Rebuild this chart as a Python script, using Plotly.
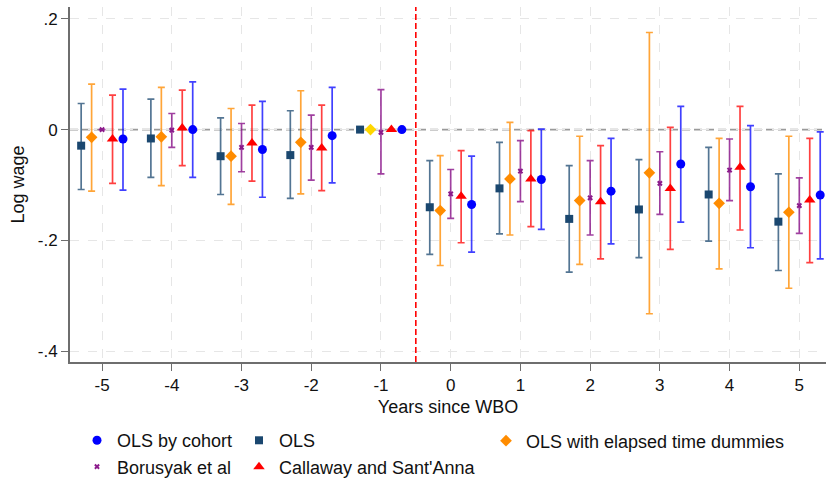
import plotly.graph_objects as go

years = [-5, -4, -3, -2, -1, 0, 1, 2, 3, 4, 5]

ols_est = [-0.029, -0.016, -0.048, -0.046, 0.0, -0.140, -0.106, -0.161, -0.144, -0.117, -0.166]
ols_lo = [-0.108, -0.086, -0.117, -0.124, 0.0, -0.225, -0.188, -0.257, -0.231, -0.201, -0.254]
ols_hi = [0.047, 0.055, 0.021, 0.034, 0.0, -0.056, -0.023, -0.065, -0.054, -0.032, -0.080]

etd_est = [-0.014, -0.013, -0.048, -0.023, 0.0, -0.146, -0.089, -0.128, -0.078, -0.133, -0.149]
etd_lo = [-0.111, -0.101, -0.135, -0.116, 0.0, -0.245, -0.190, -0.243, -0.332, -0.251, -0.286]
etd_hi = [0.082, 0.076, 0.038, 0.070, 0.0, -0.047, 0.013, -0.012, 0.175, -0.016, -0.012]

bor_est = [0.0, -0.001, -0.032, -0.032, -0.005, -0.116, -0.075, -0.123, -0.097, -0.073, -0.137]
bor_lo = [0.0, -0.032, -0.076, -0.091, -0.080, -0.160, -0.130, -0.190, -0.153, -0.128, -0.187]
bor_hi = [0.0, 0.029, 0.011, 0.026, 0.072, -0.072, -0.020, -0.056, -0.040, -0.017, -0.087]

cs_est = [-0.017, 0.003, -0.024, -0.033, 0.0, -0.120, -0.089, -0.130, -0.106, -0.068, -0.127]
cs_lo = [-0.097, -0.065, -0.093, -0.110, 0.0, -0.204, -0.175, -0.233, -0.216, -0.181, -0.240]
cs_hi = [0.062, 0.071, 0.044, 0.044, 0.0, -0.038, -0.002, -0.029, 0.004, 0.042, -0.016]

coh_est = [-0.017, 0.0, -0.036, -0.011, 0.0, -0.135, -0.090, -0.111, -0.062, -0.103, -0.118]
coh_lo = [-0.109, -0.086, -0.122, -0.096, 0.0, -0.221, -0.180, -0.206, -0.167, -0.213, -0.233]
coh_hi = [0.073, 0.086, 0.051, 0.076, 0.0, -0.048, 0.001, -0.016, 0.042, 0.007, -0.004]

y_tickvals = [0.2, 0.0, -0.2, -0.4]
y_ticktext = [".2", "0", "-.2", "-.4"]
x_tickvals = years
x_ticktext = [str(v) for v in years]

FONT = "Liberation Sans, Arial, Helvetica, sans-serif"


def errs(est, lo, hi):
    up = [(h - e) if (h != e or l != e) else None for e, l, h in zip(est, lo, hi)]
    dn = [(e - l) if (h != e or l != e) else None for e, l, h in zip(est, lo, hi)]
    return up, dn


series = [
    # name, est, lo, hi, offset, symbol, color, size, errcolor, legend, rank
    ("OLS", ols_est, ols_lo, ols_hi, -0.30, "square", "#1a476f", 8, "rgba(26,71,111,0.75)", "legend2", 1),
    ("OLS with elapsed time dummies", etd_est, etd_lo, etd_hi, -0.15, "diamond", "#ff8c00", 9, "rgba(255,140,0,0.78)", "legend3", 1),
    ("Borusyak et al", bor_est, bor_lo, bor_hi, 0.0, "x", "#8b1a8b", 5, "rgba(128,0,128,0.75)", "legend", 2),
    ("Callaway and Sant'Anna", cs_est, cs_lo, cs_hi, 0.15, "triangle-up", "#ff0000", 10, "rgba(255,0,0,0.75)", "legend2", 2),
    ("OLS by cohort", coh_est, coh_lo, coh_hi, 0.30, "circle", "#0000ff", 9, "rgba(0,0,255,0.75)", "legend", 1),
]

fig = go.Figure()
for name, est, lo, hi, off, sym, col, size, ecol, leg, rank in series:
    up, dn = errs(est, lo, hi)
    if sym == "diamond":
        mcol = ["#ffd700" if yr == -1 else col for yr in years]
    else:
        mcol = col
    fig.add_trace(go.Scatter(
        x=[yr + off for yr in years], y=est, mode="markers", name=name,
        marker=dict(symbol=sym, color=mcol, size=size,
                    line=dict(width=0)),
        error_y=dict(type="data", symmetric=False, array=up, arrayminus=dn,
                     color=ecol, thickness=1.7, width=3.5),
        legend=leg, legendrank=rank,
    ))

fig.add_shape(type="line", xref="paper", x0=0, x1=1, yref="y", y0=0, y1=0,
              line=dict(color="#9a9a9a", width=1.6, dash="8px,4px"), layer="below")
fig.add_shape(type="line", xref="x", x0=-0.5, x1=-0.5, yref="paper", y0=0, y1=1,
              line=dict(color="#ff0000", width=1.6, dash="6px,3px"), layer="above")

LEG_Y2 = -0.258
LEG_Y1 = -0.2225

fig.update_layout(
    width=826, height=478,
    margin=dict(l=70, r=0, t=7, b=116, autoexpand=False),
    paper_bgcolor="white", plot_bgcolor="white",
    font=dict(family=FONT, size=18, color="#111"),
    xaxis=dict(range=[-5.46, 5.383], tickvals=x_tickvals, ticktext=x_ticktext,
               showgrid=True, gridcolor="#e6e6e6", griddash="dash", gridwidth=1.2,
               zeroline=False, showline=True, linecolor="#6e6e6e", linewidth=2,
               ticks="outside", ticklen=7, tickcolor="#6e6e6e", tickwidth=1.3,
               tickfont=dict(size=17),
               title=dict(text="Years since WBO", font=dict(size=18), standoff=6)),
    yaxis=dict(range=[-0.419, 0.221], tickvals=y_tickvals, ticktext=y_ticktext,
               showgrid=True, gridcolor="#e6e6e6", griddash="dash", gridwidth=1.2,
               zeroline=False, showline=True, linecolor="#6e6e6e", linewidth=2,
               ticks="outside", ticklen=7, tickcolor="#6e6e6e", tickwidth=1.3,
               tickfont=dict(size=17),
               title=dict(text="Log wage", font=dict(size=18), standoff=8)),
    legend=dict(x=(77 - 70) / 756, y=LEG_Y2, xanchor="left", yanchor="middle",
                orientation="v", font=dict(size=18), tracegroupgap=0,
                bgcolor="rgba(0,0,0,0)", borderwidth=0),
    legend2=dict(x=(239 - 70) / 756, y=LEG_Y2, xanchor="left", yanchor="middle",
                 orientation="v", font=dict(size=18), tracegroupgap=0,
                 bgcolor="rgba(0,0,0,0)", borderwidth=0),
    legend3=dict(x=(486 - 70) / 756, y=LEG_Y1, xanchor="left", yanchor="middle",
                 orientation="v", font=dict(size=18), tracegroupgap=0,
                 bgcolor="rgba(0,0,0,0)", borderwidth=0),
)

fig.write_html("out.html")
